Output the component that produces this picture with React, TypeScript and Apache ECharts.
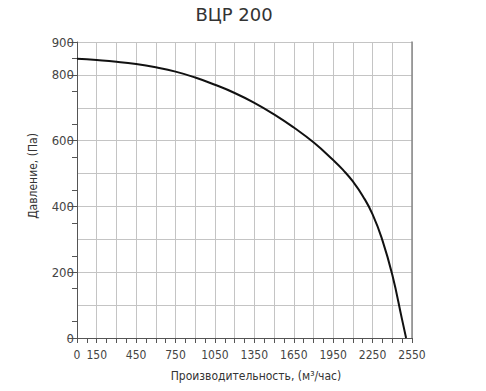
import React, { useEffect, useRef } from "react";
import * as echarts from "echarts";

const flow = [0, 150, 300, 450, 600, 750, 900, 1050, 1200, 1350, 1500, 1650, 1800, 1950, 2025, 2100, 2175, 2250, 2325, 2400, 2475, 2505];
const pressure = [849, 845, 840, 833, 823, 810, 792, 770, 745, 715, 680, 640, 595, 541, 511, 476, 432, 376, 297, 192, 55, 0];
const xLabelsShown = [0, 150, 450, 750, 1050, 1350, 1650, 1950, 2250, 2550];

const NARROW = "'Liberation Sans Narrow', 'DejaVu Sans Condensed', sans-serif";

export default function App() {
  const ref = useRef<HTMLDivElement>(null);
  useEffect(() => {
    if (!ref.current) return;
    const chart = echarts.init(ref.current, undefined, { renderer: "svg" });
    chart.setOption({
      animation: false,
      backgroundColor: "#ffffff",
      grid: { left: 77, right: 74, top: 42, bottom: 53 },
      xAxis: {
        type: "value",
        min: 0,
        max: 2550,
        interval: 150,
        axisLine: { show: true, lineStyle: { color: "#555", width: 1 } },
        axisTick: { show: true, length: 5, lineStyle: { color: "#555" } },
        minorTick: { show: true, splitNumber: 2, length: 5, lineStyle: { color: "#555" } },
        axisLabel: {
          fontFamily: NARROW,
          fontSize: 12,
          color: "#444",
          margin: 11,
          formatter: (v: number) => (xLabelsShown.indexOf(v) >= 0 ? String(v) : ""),
        },
        splitLine: { show: true, lineStyle: { color: "#c4c4c4", width: 1 } },
      },
      yAxis: [
        {
          type: "value",
          position: "left",
          min: 0,
          max: 900,
          interval: 100,
          axisLine: { show: true, lineStyle: { color: "#555", width: 1 } },
          axisTick: { show: false },
          minorTick: { show: true, splitNumber: 2, length: 5, lineStyle: { color: "#555" } },
          axisLabel: { show: false },
          splitLine: { show: true, lineStyle: { color: "#c4c4c4", width: 1 } },
        },
        {
          type: "value",
          position: "left",
          min: 0,
          max: 900,
          interval: 200,
          axisLine: { show: false },
          axisTick: { show: true, length: 9, lineStyle: { color: "#555" } },
          axisLabel: { fontFamily: NARROW, fontSize: 13, color: "#444", margin: 3 },
          splitLine: { show: false },
        },
        {
          type: "value",
          position: "right",
          min: 0,
          max: 900,
          axisLine: { show: true, lineStyle: { color: "#888", width: 1.5 } },
          axisTick: { show: false },
          axisLabel: { show: false },
          splitLine: { show: false },
        },
      ],
      series: [
        {
          type: "line",
          yAxisIndex: 0,
          data: flow.map((q, i) => [q, pressure[i]]),
          smooth: 0.5,
          showSymbol: false,
          symbol: "none",
          lineStyle: { color: "#111", width: 2 },
        },
      ],
      graphic: [
        {
          type: "text",
          x: 234,
          y: 14,
          style: {
            text: "ВЦР 200",
            fontFamily: "'DejaVu Sans', sans-serif",
            fontSize: 18,
            fill: "#333",
            align: "center",
            verticalAlign: "middle",
          },
        },
        {
          type: "text",
          x: 33,
          y: 176,
          rotation: Math.PI / 2,
          style: {
            text: "Давление, (Па)",
            fontFamily: NARROW,
            fontSize: 12,
            fill: "#333",
            align: "center",
            verticalAlign: "middle",
          },
        },
        {
          type: "text",
          x: 256,
          y: 376,
          style: {
            text: "Производительность, (м³/час)",
            fontFamily: NARROW,
            fontSize: 12,
            fill: "#333",
            align: "center",
            verticalAlign: "middle",
          },
        },
      ],
    });
    return () => chart.dispose();
  }, []);
  return (
    <div
      ref={ref}
      style={{ position: "fixed", left: 0, top: 0, width: 486, height: 391 }}
    />
  );
}
